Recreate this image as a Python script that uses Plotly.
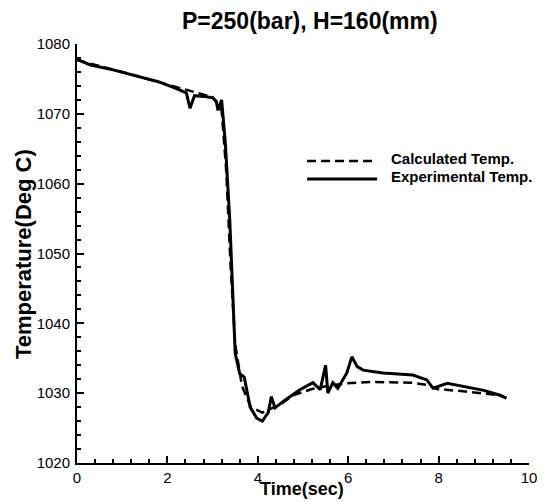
import plotly.graph_objects as go

exp_t = [0.0, 0.3, 0.8, 1.3, 1.8, 2.2, 2.42, 2.5, 2.6, 2.8, 3.0, 3.08, 3.12, 3.2, 3.28, 3.38, 3.5, 3.6, 3.7, 3.83, 3.98, 4.1, 4.23, 4.3, 4.38, 4.6, 4.93, 5.22, 5.38, 5.5, 5.55, 5.66, 5.77, 5.97, 6.08, 6.2, 6.33, 6.77, 7.43, 7.74, 7.88, 8.19, 8.63, 9.0, 9.36, 9.5]
exp_T = [1077.8, 1077.0, 1076.3, 1075.4, 1074.6, 1073.6, 1073.0, 1070.8, 1072.6, 1072.5, 1072.3, 1071.8, 1070.5, 1072.0, 1066.0, 1054.8, 1035.7, 1032.8, 1032.3, 1028.0, 1026.4, 1026.0, 1027.2, 1029.5, 1027.9, 1029.0, 1030.5, 1031.5, 1030.5, 1034.0, 1030.0, 1031.5, 1030.7, 1032.9, 1035.2, 1033.8, 1033.3, 1032.9, 1032.6, 1031.9, 1030.7, 1031.4, 1030.9, 1030.4, 1029.7, 1029.3]

calc_t = [0.0, 0.5, 1.0, 1.5, 2.0, 2.5, 3.0, 3.2, 3.3, 3.4, 3.5, 3.65, 3.85, 4.1, 4.5, 4.78, 5.2, 5.6, 5.97, 6.5, 7.0, 7.4, 7.74, 7.96, 8.5, 9.0, 9.36, 9.5]
calc_T = [1077.7, 1076.9, 1076.0, 1075.1, 1074.2, 1073.2, 1072.4, 1070.5, 1062.0, 1048.0, 1037.0, 1031.0, 1028.0, 1027.2, 1028.4, 1029.7, 1030.6, 1031.1, 1031.4, 1031.6, 1031.6, 1031.5, 1031.2, 1030.6, 1030.3, 1030.0, 1029.7, 1029.3]

x_ticks = [0, 2, 4, 6, 8, 10]
y_ticks = [1020, 1030, 1040, 1050, 1060, 1070, 1080]

series_names = ["Calculated Temp.", "Experimental Temp."]
chart_title = "P=250(bar), H=160(mm)"
FONT = "Arial, Liberation Sans, sans-serif"

fig = go.Figure()
fig.add_trace(go.Scatter(x=calc_t, y=calc_T, mode="lines", name=series_names[0], showlegend=False,
                         line=dict(color="black", width=2.5, dash="9px,5px")))
fig.add_trace(go.Scatter(x=exp_t, y=exp_T, mode="lines", name=series_names[1], showlegend=False,
                         line=dict(color="black", width=3)))

# Legend drawn manually to reproduce the long sample lines
leg_x0, leg_x1 = 0.509, 0.664
leg_rows = [(0.721, "9px,5px", 2.5), (0.678, "solid", 3)]
for (ly, dash, w), name in zip(leg_rows, series_names):
    fig.add_shape(type="line", xref="paper", yref="paper", x0=leg_x0, x1=leg_x1, y0=ly, y1=ly,
                  line=dict(color="black", width=w, dash=dash))
    fig.add_annotation(xref="paper", yref="paper", x=0.69, y=ly + 0.006, xanchor="left", yanchor="middle",
                       text="<b>" + name + "</b>", showarrow=False,
                       font=dict(family=FONT, size=15, color="black"))

# Title and axis titles
fig.add_annotation(xref="paper", yref="paper", x=0.515, y=1.055, xanchor="center", yanchor="middle",
                   text="<b>" + chart_title + "</b>", showarrow=False,
                   font=dict(family=FONT, size=23, color="black"))
fig.add_annotation(xref="paper", yref="paper", x=0.497, y=-0.062, xanchor="center", yanchor="middle",
                   text="<b>Time(sec)</b>", showarrow=False, font=dict(family=FONT, size=18, color="black"))
fig.add_annotation(xref="paper", yref="paper", x=-0.117, y=0.499, xanchor="center", yanchor="middle",
                   text="<b>Temperature(Deg C)</b>", showarrow=False, textangle=-90,
                   font=dict(family=FONT, size=22, color="black"))

axis_common = dict(showgrid=False, zeroline=False, showline=True, linecolor="black", linewidth=2,
                   ticks="inside", ticklen=7, tickwidth=2, tickcolor="black", automargin=False,
                   tickfont=dict(family=FONT, size=15, color="black"), mirror=False)

# page has an 8px body margin, so the figure is sized to fit inside the window
fig.update_layout(
    width=538, height=494,
    paper_bgcolor="white", plot_bgcolor="white",
    margin=dict(l=69, r=17, t=36, b=39),
    showlegend=False,
    font=dict(family=FONT, color="black"),
)
fig.update_xaxes(range=[0, 10], tickvals=x_ticks, ticktext=[str(v) for v in x_ticks],
                 minor=dict(dtick=0.4, ticks="inside", ticklen=4, tickwidth=1.5, tickcolor="black", tick0=0),
                 ticklabelstandoff=0, **axis_common)
fig.update_yaxes(range=[1020, 1080], tickvals=y_ticks, ticktext=[str(v) for v in y_ticks],
                 minor=dict(dtick=2, ticks="inside", ticklen=4, tickwidth=1.5, tickcolor="black", tick0=1020),
                 ticklabelstandoff=2, **axis_common)

fig.write_html("out.html")
